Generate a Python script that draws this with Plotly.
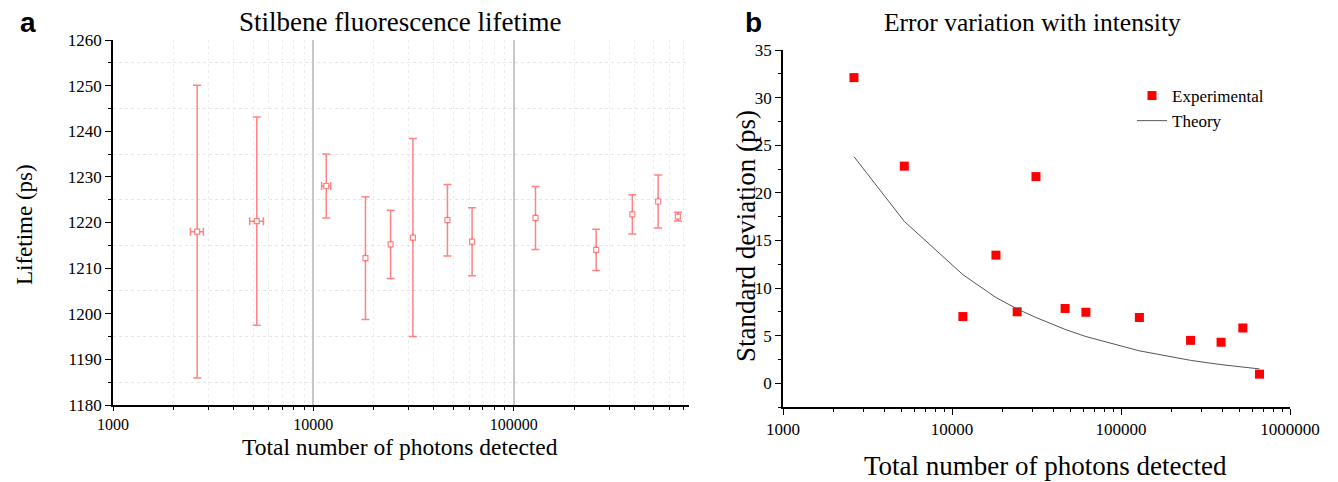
import plotly.graph_objects as go

# ---------------- data ----------------
photons = [2630, 5220, 11600, 18200, 24300, 31400, 46700, 62000, 128500, 258000, 391000, 526000, 660000]
lifetime_ps = [1218.0, 1220.3, 1228.0, 1212.2, 1215.2, 1216.7, 1220.5, 1215.8, 1221.0, 1214.0, 1221.8, 1224.6, 1221.3]
std_dev_ps = [32.1, 22.8, 7.0, 13.45, 7.5, 21.7, 7.85, 7.45, 6.9, 4.5, 4.3, 5.8, 0.95]
photon_err = [195, 410, 600, 0, 0, 0, 0, 0, 0, 0, 0, 0, 0]
theory_ps = [23.8, 17.0, 11.4, 9.0, 7.8, 6.9, 5.65, 4.9, 3.4, 2.4, 1.95, 1.7, 1.5]

x_tick_vals_a = [1000, 10000, 100000]
x_tick_vals_b = [1000, 10000, 100000, 1000000]

SERIF = "Liberation Serif"
ERR_RED = "rgba(255,100,100,0.8)"

W, H = 1338, 482
OFF = 8  # page body offset
ML, MR, MT, MB = 40, 40, 30, 30
PW, PH = W - ML - MR, H - MT - MB


def px_x(p):
    return (p - OFF - ML) / PW


def px_y(p):
    return 1 - (p - OFF - MT) / PH


fig = go.Figure()

# Panel a: lifetime with error bars
fig.add_trace(go.Scatter(
    x=photons, y=lifetime_ps, mode="markers",
    marker=dict(symbol="square", size=5, color="white",
                line=dict(color=ERR_RED, width=1.2)),
    error_y=dict(type="data", array=std_dev_ps, visible=True,
                 color=ERR_RED, thickness=1.5, width=4),
    error_x=dict(type="data", array=photon_err, visible=True,
                 color=ERR_RED, thickness=1.5, width=4),
    xaxis="x", yaxis="y", showlegend=False,
))

# Panel b: std deviation
fig.add_trace(go.Scatter(
    x=photons, y=std_dev_ps, mode="markers", name="Experimental",
    marker=dict(symbol="square", size=9, color="#ff0000"),
    xaxis="x2", yaxis="y2",
))
fig.add_trace(go.Scatter(
    x=photons, y=theory_ps, mode="lines", name="Theory",
    line=dict(color="#555555", width=1),
    xaxis="x2", yaxis="y2",
))

tickfont = dict(family=SERIF, size=17, color="black")
xtickfont = dict(family=SERIF, size=16, color="black")


def ann(text, x, y, size, angle=0, family=SERIF):
    return dict(text=text, x=px_x(x), y=px_y(y), xref="paper", yref="paper",
                xanchor="center", yanchor="middle", textangle=angle,
                showarrow=False, font=dict(family=family, size=size, color="black"))


fig.update_layout(
    width=W, height=H,
    margin=dict(l=ML, r=MR, t=MT, b=MB, autoexpand=False),
    paper_bgcolor="white", plot_bgcolor="white",
    font=dict(family=SERIF, color="black"),
    xaxis=dict(
        type="log", domain=[px_x(113), px_x(689)], anchor="y",
        range=[3, 5.875], automargin=False,
        tickvals=x_tick_vals_a, ticktext=[str(v) for v in x_tick_vals_a],
        ticks="outside", ticklen=4, tickwidth=1, tickcolor="black",
        showline=True, linecolor="black", linewidth=1.5,
        showgrid=True, gridcolor="#c8c8c8", gridwidth=1.5,
        minor=dict(dtick="D1", ticks="outside", ticklen=3, tickcolor="black",
                   showgrid=True, gridcolor="#ececec", griddash="dot", gridwidth=1),
        tickfont=xtickfont, zeroline=False,
    ),
    yaxis=dict(
        domain=[px_y(405), px_y(40)], anchor="x", automargin=False,
        range=[1180, 1260], dtick=10, tick0=1180,
        ticks="outside", ticklen=6, tickwidth=1, tickcolor="black",
        showline=True, linecolor="black", linewidth=1.5,
        showgrid=False,
        minor=dict(tick0=1185, dtick=10, ticks="outside", ticklen=3, tickcolor="black",
                   showgrid=True, gridcolor="#e6e6e6", griddash="dot", gridwidth=1),
        tickfont=tickfont, zeroline=False,
    ),
    xaxis2=dict(
        type="log", domain=[px_x(783), px_x(1290)], anchor="y2",
        range=[3, 6], automargin=False,
        tickvals=x_tick_vals_b, ticktext=[str(v) for v in x_tick_vals_b],
        ticks="outside", ticklen=6, tickwidth=1, tickcolor="black",
        showline=True, linecolor="black", linewidth=1.5,
        showgrid=False,
        minor=dict(dtick="D1", ticks="outside", ticklen=3, tickcolor="black", showgrid=False),
        tickfont=tickfont, zeroline=False,
    ),
    yaxis2=dict(
        domain=[px_y(407), px_y(50)], anchor="x2", automargin=False,
        range=[-2.5, 35], tickvals=[0, 5, 10, 15, 20, 25, 30, 35],
        ticks="outside", ticklen=6, tickwidth=1, tickcolor="black",
        showline=True, linecolor="black", linewidth=1.5,
        showgrid=False,
        minor=dict(tick0=2.5, dtick=5, ticks="outside", ticklen=3, tickcolor="black", showgrid=False),
        tickfont=tickfont, zeroline=False,
    ),
    legend=dict(
        x=px_x(1132), y=px_y(78), xanchor="left", yanchor="top",
        font=dict(family=SERIF, size=17, color="black"),
        bgcolor="rgba(0,0,0,0)",
    ),
    annotations=[
        ann("<b>a</b>", 28, 22, 28, family="Liberation Sans"),
        ann("<b>b</b>", 753, 22, 28, family="Liberation Sans"),
        ann("Stilbene fluorescence lifetime", 400, 22, 27),
        ann("Error variation with intensity", 1032, 22, 25.5),
        ann("Lifetime (ps)", 24, 225, 23, angle=-90),
        ann("Total number of photons detected", 400, 447, 23.5),
        ann("Standard deviation (ps)", 746, 236, 27, angle=-90),
        ann("Total number of photons detected", 1045, 466, 27),
    ],
)

fig.write_html("out.html")
